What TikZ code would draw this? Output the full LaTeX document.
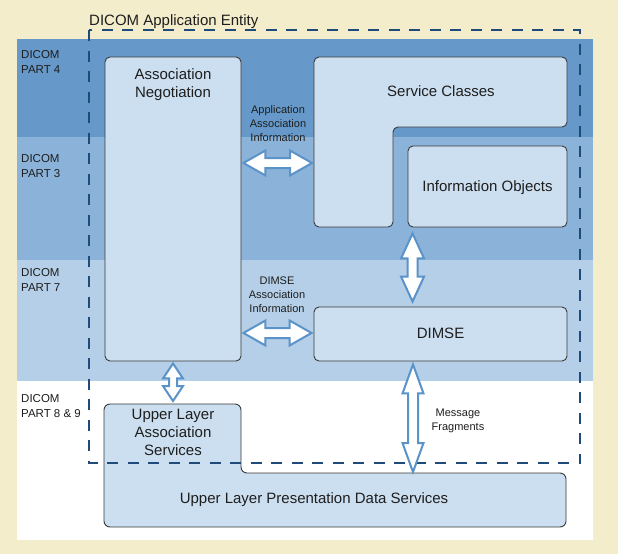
\documentclass[tikz,border=0pt]{standalone}
\usepackage{fontspec}
\setmainfont{Liberation Sans}
\usetikzlibrary{calc}
\definecolor{cream}{HTML}{F3EDCB}
\definecolor{bandA}{HTML}{6699C9}
\definecolor{bandB}{HTML}{8BB3D9}
\definecolor{bandC}{HTML}{B4CFE7}
\definecolor{boxfill}{HTML}{CCDFF0}
\definecolor{boxline}{HTML}{3A3A3A}
\definecolor{arrowblue}{HTML}{5B93C8}
\definecolor{dashblue}{HTML}{1F4A7A}
\definecolor{txt}{HTML}{1E1E1E}
\tikzset{
  box/.style={draw=boxline, fill=boxfill, line width=0.9pt, rounded corners=5pt, inner sep=0pt},
  big/.style={font=\fontsize{15}{18}\selectfont, align=center, anchor=base, inner sep=0pt, text=txt},
  small/.style={font=\fontsize{11}{14}\selectfont, align=center, anchor=base, inner sep=0pt, text=txt},
  bandlabel/.style={font=\fontsize{11.5}{15}\selectfont, align=left, anchor=base west, inner sep=0pt, text=txt},
  fatarrow/.style={draw=arrowblue, fill=white, line width=2pt, line join=miter},
  entity/.style={draw=dashblue, line width=2.5pt, dash pattern=on 11pt off 9.5pt},
}
% horizontal double arrow between two points
\newcommand{\harr}[2]{\draw[fatarrow] let \p1=#1, \p2=#2 in
  (\x1,\y1) -- (\x1+22pt,\y1+12.5pt) -- (\x1+22pt,\y1+5pt) -- (\x2-22pt,\y1+5pt) -- (\x2-22pt,\y1+12.5pt)
  -- (\x2,\y1) -- (\x2-22pt,\y1-12.5pt) -- (\x2-22pt,\y1-5pt) -- (\x1+22pt,\y1-5pt) -- (\x1+22pt,\y1-12.5pt) -- cycle;}
% vertical double arrow: top, bottom, head length, head half width, shaft half width
\newcommand{\varr}[5]{\draw[fatarrow] let \p1=#1, \p2=#2 in
  (\x1,\y1) -- (\x1+#4,\y1-#3) -- (\x1+#5,\y1-#3) -- (\x1+#5,\y2+#3) -- (\x1+#4,\y2+#3)
  -- (\x1,\y2) -- (\x1-#4,\y2+#3) -- (\x1-#5,\y2+#3) -- (\x1-#5,\y1-#3) -- (\x1-#4,\y1-#3) -- cycle;}
\begin{document}
\begin{tikzpicture}[x=1pt,y=-1pt]
\useasboundingbox (0,0) rectangle (618,554);
\fill[cream] (0,0) rectangle (618,554);
% bands
\fill[bandA] (17,39) rectangle (593,137);
\fill[bandB] (17,137) rectangle (593,260);
\fill[bandC] (17,260) rectangle (593,381);
\fill[white] (17,381) rectangle (593,540);
% band labels (anchor = baseline of last line)
\node[bandlabel] (p4) at (21,73) {DICOM\\PART 4};
\node[bandlabel] (p3) at (21,177) {DICOM\\PART 3};
\node[bandlabel] (p7) at (21,291) {DICOM\\PART 7};
\node[bandlabel] (p89) at (21,417) {DICOM\\PART 8 \& 9};
% association negotiation
\node[box, minimum width=136pt, minimum height=304pt] (an) at (173,209) {};
\node[big] (antext) at (173,97) {Association\\Negotiation};
% service classes (L-shape)
\coordinate (sc-nw) at (314,57);
\filldraw[draw=boxline, fill=boxfill, line width=0.9pt, rounded corners=5pt]
  (sc-nw) -- (567,57) -- (567,127) -- (393,127) -- (393,227) -- (314,227) -- cycle;
\node[big] (sctext) at (441,96) {Service Classes};
% information objects
\node[box, minimum width=159pt, minimum height=81pt] (io) at (487.5,186.5) {};
\node[big] (iotext) at (487.5,191) {Information Objects};
% DIMSE
\node[box, minimum width=253pt, minimum height=54pt] (dimse) at (440.5,334) {};
\node[big] (dimsetext) at (440.5,338) {DIMSE};
% upper layer services (combined shape)
\coordinate (ul-nw) at (104,404);
\coordinate (ulp-n) at (413,473);
\filldraw[draw=boxline, fill=boxfill, line width=0.9pt, rounded corners=6pt]
  (ul-nw) -- (241,404) -- (241,473) -- (566,473) -- (566,527) -- (104,527) -- cycle;
\node[big] (ulas) at (173,455) {Upper Layer\\Association\\Services};
\node[big] (ulpds) at (314,503) {Upper Layer Presentation Data Services};
% application entity
\draw[entity] (89,30) rectangle (580,463);
\node[anchor=base west, inner sep=0pt, font=\fontsize{15}{18}\selectfont, text=txt] (ae) at (89,25) {DICOM Application Entity};
% arrows
\harr{($(an.east|-0,163)+(2pt,0)$)}{($(sc-nw|-0,163)+(-2pt,0)$)}
\harr{($(an.east|-0,333)+(2pt,0)$)}{($(dimse.west|-0,333)+(-2pt,0)$)}
\varr{($(io.south west)+(5,6)$)}{($(413,0|-dimse.north)+(0,-5)$)}{25pt}{11.5pt}{5pt}
\varr{($(an.south)+(0,2)$)}{($(an.south|-ul-nw)+(0,-3)$)}{15pt}{10pt}{4pt}
\varr{($(413,0|-dimse.south)+(0,3)$)}{($(ulp-n)+(0,-1)$)}{29pt}{10.5pt}{5pt}
% arrow labels
\node[small] (aai) at (278,141) {Application\\Association\\Information};
\node[small] (dai) at (277,312) {DIMSE\\Association\\Information};
\node[small] (mf) at (458,430) {Message\\Fragments};
\end{tikzpicture}
\end{document}
